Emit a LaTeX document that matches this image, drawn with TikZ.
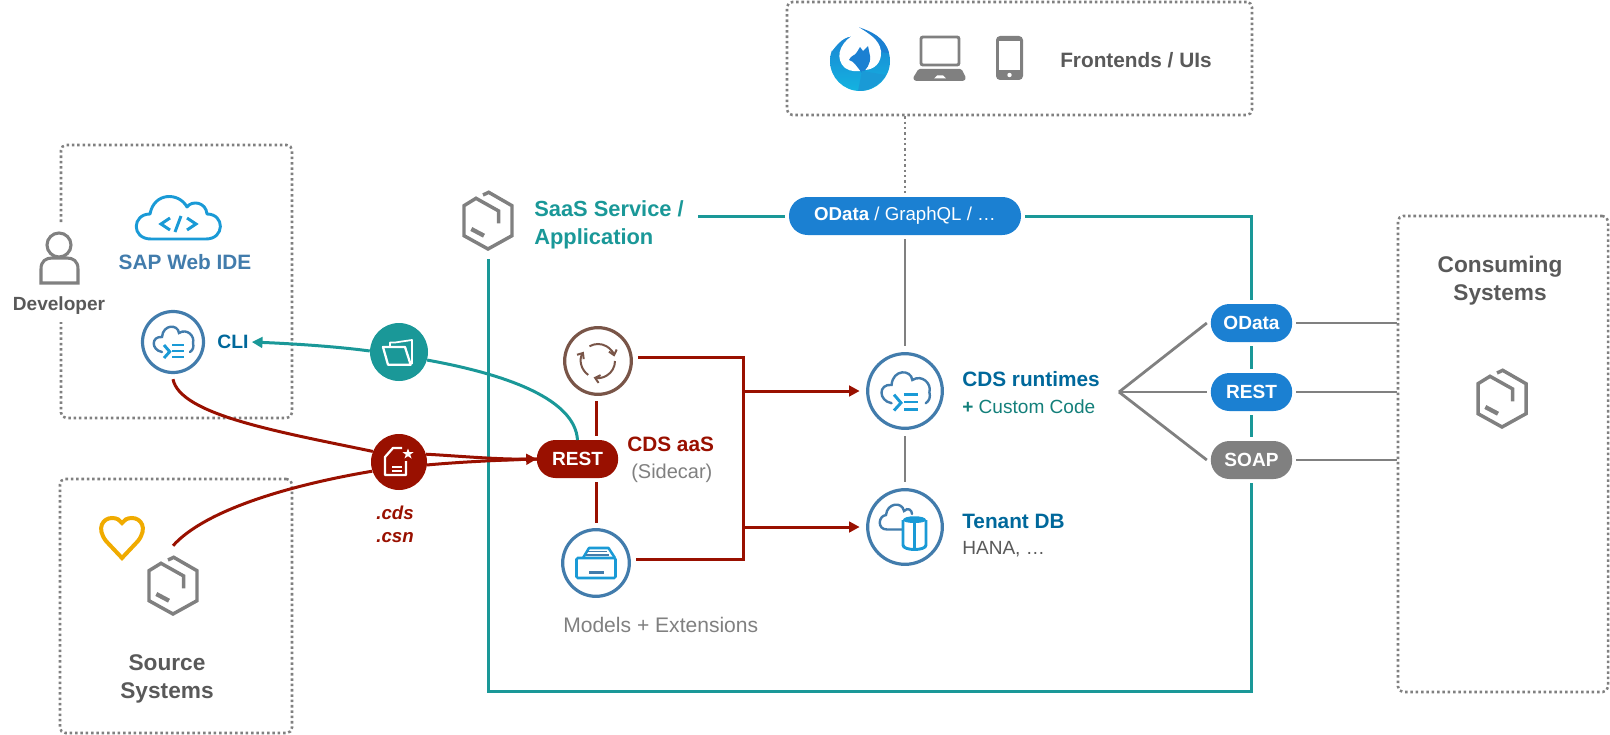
\documentclass[tikz,border=0pt]{standalone}
\usepackage{fontspec}
\setmainfont{Liberation Sans}
\usetikzlibrary{arrows.meta}

\definecolor{sapteal}{HTML}{1A9898}
\definecolor{sapred}{HTML}{991000}
\definecolor{sapblue}{HTML}{1B80D2}
\definecolor{ringblue}{HTML}{427CAC}
\definecolor{iconblue}{HTML}{1A9AD6}
\definecolor{deepblue}{HTML}{00689B}
\definecolor{midgrey}{HTML}{808080}
\definecolor{darkgrey}{HTML}{595959}
\definecolor{ringbrown}{HTML}{795548}
\definecolor{heartgold}{HTML}{F0AB00}
\definecolor{customteal}{HTML}{137F7A}

\tikzset{
	dotline/.style={midgrey,line width=1.9pt,dash pattern=on 1.9pt off 2.1pt},
	dotbox/.style={dotline,rectangle,rounded corners=4pt},
	greyline/.style={midgrey,line width=2.1pt},
	tealline/.style={sapteal,line width=2.25pt},
	redline/.style={sapred,line width=2.25pt},
	ring/.style={circle,draw=ringblue,fill=white,line width=2.4pt,inner sep=0pt,minimum size=50pt,outer sep=5pt},
	disc/.style={circle,inner sep=0pt,minimum size=42pt},
	spot/.style={circle,inner sep=0pt,minimum size=58.5pt},
	pill/.style={rectangle,rounded corners=14pt,inner sep=0pt,minimum width=61pt,minimum height=28.5pt,outer sep=3pt,text=white,font=\fontsize{14.3}{17}\selectfont\bfseries},
	bold/.style={inner sep=0pt,font=\fontsize{15.6}{21}\selectfont\bfseries},
	large/.style={inner sep=0pt,font=\fontsize{17}{21}\selectfont\bfseries},
	plain/.style={inner sep=0pt,font=\fontsize{14.3}{18}\selectfont},
	hexbox/.pic={
		\draw[midgrey,line width=2.6pt,line join=miter]
			(-5,-25) -- (0.7,-27.7) -- (24,-14.3) -- (24,15.7) -- (0,29) -- (-24,15.7) -- (-24,-14.3)
			-- (-12,-21.7) -- (10.7,-9) -- (10.7,3.3);
		\draw[midgrey,line width=3.2pt] (-16.7,9) -- (-4,15.7);
	},
	cloudcli/.pic={
		\draw[ringblue,line width=1.8pt,line cap=round]
			(-11,10) .. controls (-22,8) and (-22,-6) .. (-11,-5)
			.. controls (-10,-18) and (5,-18) .. (6,-9)
			.. controls (14,-14) and (22,-6) .. (20,1)
			.. controls (21,5) and (20,8) .. (17,10);
		\draw[iconblue,line width=2.2pt] (-9,3) -- (-3.3,9.7) -- (-9,16);
		\foreach \b in {3,9,15}
			\draw[iconblue,line width=2.2pt] (-1,\b) -- (11,\b);
	},
	clouddb/.pic={
		\draw[ringblue,line width=1.8pt,line cap=round]
			(-3,2.5) -- (-18,2.5) .. controls (-28,2.5) and (-27,-11) .. (-19,-12)
			.. controls (-18,-24) and (-3,-26) .. (-1,-16)
			.. controls (3,-20) and (7,-17) .. (7,-13);
		\draw[iconblue,line width=2.2pt,fill=white] (-2,-7) -- (-2,18) .. controls (-2,24) and (21,24) .. (21,18) -- (21,-7);
		\fill[iconblue] (-2,-7) .. controls (-2,-12) and (21,-12) .. (21,-7) .. controls (21,-3) and (-2,-3) .. cycle;
		\draw[iconblue,line width=2.2pt] (9.5,-4) -- (9.5,21);
	},
	refreshicon/.pic={
		\foreach \a/\e in {240/345,0/105,125/213}
			\draw[ringbrown,line width=1.5pt,-{Straight Barb[length=3.5pt,width=6pt]}] (\a:17) arc (\a:\e:17);
	},
	archiveicon/.pic={
		\draw[iconblue,line width=1.9pt,line join=round] (-13,-5) -- (-7,-15) -- (12.5,-15) -- (19,-5);
		\draw[iconblue,line width=1.9pt,rounded corners=1pt] (-19.5,-5) rectangle (19.5,15);
		\draw[ringblue,line width=1pt] (-9,-11.5) -- (11,-11.5);
		\draw[ringblue,line width=1pt] (-10.5,-8) -- (13,-8);
		\fill[ringblue] (-7.5,8) rectangle (7.5,11);
	},
	fileicon/.pic={
		\draw[white,line width=1.7pt,line join=round] (3,-14) -- (-6,-14) -- (-14,-5) -- (-14,13) -- (7,13) -- (7,-1);
		\draw[white,line width=1pt] (-7,5) -- (3,5);
		\draw[white,line width=1pt] (-7,9) -- (3,9);
		\fill[white] (9,-13.5) -- (10.4,-9.8) -- (14.5,-9.8) -- (11.2,-7.4) -- (12.5,-3.5) -- (9,-5.9)
			-- (5.5,-3.5) -- (6.8,-7.4) -- (3.5,-9.8) -- (7.6,-9.8) -- cycle;
	},
	foldericon/.pic={
		\draw[white,line width=1.3pt,line join=round] (-9,-6) -- (-9,-9.5) -- (-4,-9.5) -- (13,-12) -- (13,12);
		\draw[white,line width=1.7pt,line join=round] (-16,-5) -- (6,-5) -- (11.7,12.7) -- (-11,12.7) -- cycle;
	},
	phoenix/.pic={
		\shade[top color=sapblue,bottom color=iconblue!75!cyan] (0,0) circle (30);
		\fill[sapblue] (-1,-33.7) .. controls (10,-30) and (25,-24) .. (29,-8) -- (10,-10) -- cycle;
		\fill[white] (-9,-24.5) .. controls (-18,-23.5) and (-24,-15) .. (-28,-10) -- (-33,-33) -- (-9,-35) -- cycle;
		\fill[white] (-9,-24.5) .. controls (-21,-16) and (-25,-2) .. (-15,7)
			.. controls (-9,11) and (-2,11) .. (4,9)
			.. controls (14,9) and (22,2) .. (21,-10)
			.. controls (19,-22) and (9,-27) .. (-1,-33.7) -- (-9,-34) -- cycle;
		\fill[sapblue] (-11,-1) .. controls (-9,-6) and (-5,-5) .. (-3,-9) -- (0,-14) -- (3,-10) -- (8,-15) -- (10,-5)
			.. controls (11,3) and (6,9) .. (2,12) .. controls (-3,6) and (-6,0) .. cycle;
		\fill[iconblue] (2,10) -- (26,14) .. controls (18,26) and (8,30) .. (-2,30) -- cycle;
	},
	laptopicon/.pic={
		\draw[midgrey,line width=2.2pt,rounded corners=1.5pt] (-19,-22) rectangle (19,6);
		\fill[midgrey,rounded corners=1pt] (-21.5,10) -- (21.5,10) -- (26,19) -- (24,22) -- (-25,22) -- (-27,19) -- cycle;
		\fill[white] (-6,19.5) -- (-3,16.5) -- (3,16.5) -- (6,19.5) -- cycle;
	},
	phoneicon/.pic={
		\fill[midgrey,rounded corners=3pt] (-13.5,-22) rectangle (13.5,22);
		\fill[white] (-10.5,-17) rectangle (10.5,12);
		\fill[white] (0,17) circle (2.2);
	},
}

\begin{document}
\begin{tikzpicture}[x=0.75pt,y=-0.75pt]

	\useasboundingbox (0,0) rectangle (1610,735);

	% dotted system boxes
	\node[dotbox,draw,minimum width=348.75pt,minimum height=84.75pt] (frontends) at (1019.5,58.5) {};
	\node[dotbox,draw,minimum width=174pt,minimum height=190.5pt] (source) at (176,606) {};
	\node[dotbox,draw,minimum width=157.5pt,minimum height=357pt] (consuming) at (1503,454) {};
	\draw[dotline,rounded corners=4pt] (61,222) -- (61,145) -- (292,145) -- (292,418) -- (61,418) -- (61,322);

	% frontends
	\pic at (860,61) {phoenix};
	\pic at (940,59) {laptopicon};
	\pic at (1009.5,58) {phoneicon};
	\node[bold,text=darkgrey,anchor=west] (uilabel) at (1060,60) {Frontends / UIs};

	% developer side
	\draw[midgrey,line width=2.3pt] (59,245) circle (12);
	\draw[midgrey,line width=2.3pt] (41,283) -- (41,269) .. controls (41,261) and (46,258) .. (52,258) -- (67,258) .. controls (73,258) and (78,261) .. (78,269) -- (78,283) -- cycle;
	\node[inner sep=0pt,text=darkgrey,font=\fontsize{14.3}{17}\selectfont\bfseries] (developer) at (59,306) {Developer};
	\draw[iconblue,line width=2.2pt,line join=round]
		(151,239) -- (206,239) .. controls (225,239) and (225,214) .. (207,214)
		.. controls (206,202) and (192,200) .. (187,207)
		.. controls (179,192) and (154,192) .. (150,214)
		.. controls (132,214) and (131,239) .. (151,239);
	\draw[iconblue,line width=2.2pt] (170,218) -- (161,224) -- (170,230);
	\draw[iconblue,line width=2.2pt] (181,216) -- (175,232);
	\draw[iconblue,line width=2.2pt] (187,218) -- (196,224) -- (187,230);
	\node[bold,text=ringblue] (webide) at (185,262) {SAP Web IDE};
	\node[ring,minimum size=45.75pt] (cli) at (173,342) {};
	\pic at (173,342) {cloudcli};
	\node[bold,text=deepblue,font=\fontsize{14.5}{17}\selectfont\bfseries,inner xsep=2.2pt] (clilabel) at (233,342) {CLI};

	% source side
	\draw[heartgold,line width=3pt,line join=miter]
		(122,558) -- (106,541) .. controls (96,528) and (103,518) .. (112,518) .. controls (117,518) and (120,520) .. (122,523)
		.. controls (124,520) and (127,518) .. (132,518) .. controls (141,518) and (148,528) .. (138,541) -- cycle;
	\node[spot] (srchex) at (173,585) {};
	\pic at (173,585) {hexbox};
	\node[large,text=darkgrey,align=center] (srclabel) at (167,679) {Source\\ Systems};

	% files on the way
	\node[disc,fill=sapred] (cdsfile) at (399,462) {};
	\pic at (399,462) {fileicon};
	\node[inner sep=0pt,text=sapred,align=center,font=\fontsize{14}{17.5}\selectfont\bfseries\itshape] (cdstext) at (395,524) {.cds\\.csn};
	\node[disc,fill=sapteal,minimum size=43.5pt] (folder) at (399,352) {};
	\pic at (399,352) {foldericon};

	% sidecar
	\node[ring,draw=ringbrown] (refresh) at (598,361) {};
	\pic at (598,361) {refreshicon};
	\node[ring] (archive) at (596,563) {};
	\pic at (596,563) {archiveicon};
	\node[pill,fill=sapred,outer sep=0pt] (sidecar) at (577.5,459) {REST};
	\node[bold,text=sapred,anchor=west] (aaslabel) at (627,444) {CDS aaS};
	\node[plain,text=midgrey,anchor=west,font=\fontsize{15}{18}\selectfont] (sidelabel) at (631,473) {(Sidecar)};
	\node[plain,text=midgrey,anchor=west,font=\fontsize{15.8}{19}\selectfont] (modellabel) at (563,625) {Models + Extensions};

	% runtimes
	\node[ring,minimum size=56pt,outer sep=6pt] (runtime) at (905,391) {};
	\pic[scale=1.22] at (905,391) {cloudcli};
	\node[ring,minimum size=56pt,outer sep=6pt] (tenant) at (905,527) {};
	\pic at (905,527) {clouddb};
	\node[bold,text=deepblue,anchor=west] (runlabel) at (962,379) {CDS runtimes};
	\node[plain,text=customteal,anchor=west] (codelabel) at (962,407) {\textbf{+} Custom Code};
	\node[bold,text=deepblue,anchor=west] (tenantlabel) at (962,521) {Tenant DB};
	\node[plain,text=darkgrey,anchor=west] (hanalabel) at (962,549) {HANA, \dots};

	% service frame and protocols
	\node[spot] (saashex) at (488,220) {};
	\pic at (488,220) {hexbox};
	\node[bold,text=sapteal,anchor=west,align=left,font=\fontsize{16.4}{21}\selectfont\bfseries] (saaslabel) at (534,224.5) {SaaS Service /\\Application};
	\node[pill,fill=sapblue,minimum width=174pt,font=\fontsize{14}{17}\selectfont] (apitop) at (905,216) {\textbf{OData} / GraphQL / \dots};
	\node[pill,fill=sapblue] (odata) at (1251.5,323) {OData};
	\node[pill,fill=sapblue] (rest) at (1251.5,392) {REST};
	\node[pill,fill=midgrey] (soap) at (1251.5,460) {SOAP};
	\node[large,text=darkgrey,align=center] (conslabel) at (1500,281) {Consuming\\ Systems};
	\pic at (1502,398) {hexbox};

	\coordinate (saasend) at (698,216);
	\coordinate (frameNE) at (1251.5,216);
	\coordinate (frameSE) at (1251.5,691);
	\coordinate (frameSW) at (488,691);
	\coordinate (fan) at (1119,392);
	\coordinate (bend) at (743,357);
	\coordinate (bendlow) at (743,559);

	\draw[tealline] (saasend) -- (apitop.west);
	\draw[tealline] (apitop.east) -- (frameNE) -- (odata.north);
	\draw[tealline] (odata.south) -- (rest.north);
	\draw[tealline] (rest.south) -- (soap.north);
	\draw[tealline] (soap.south) -- (frameSE) -- (frameSW) -- (saashex.south);

	\draw[dotline] (frontends.south -| apitop.north) -- (apitop.north);
	\draw[greyline] (apitop.south) -- (runtime.north);
	\draw[greyline] (runtime.south) -- (tenant.north);
	\draw[greyline] (fan) -- (odata.west);
	\draw[greyline] (fan) -- (rest.west);
	\draw[greyline] (fan) -- (soap.west);
	\draw[greyline] (odata.east) -- (odata.east -| consuming.west);
	\draw[greyline] (rest.east) -- (rest.east -| consuming.west);
	\draw[greyline] (soap.east) -- (soap.east -| consuming.west);

	\draw[redline,shorten >=3pt] (archive.north |- refresh.south) -- (archive.north |- sidecar.north);
	\draw[redline,shorten <=3pt] (archive.north |- sidecar.south) -- (archive.north);
	\draw[redline] (refresh.east |- bend) -- (bend) -- (bendlow) -- (archive.east |- bendlow);
	\draw[redline,-{Triangle[length=8pt,width=8pt]}] (bend |- runtime.west) -- (runtime.west);
	\draw[redline,-{Triangle[length=8pt,width=8pt]}] (bend |- tenant.west) -- (tenant.west);

	\draw[redline] (cli.south) .. controls (180,415) and (280,432) .. (cdsfile.158);
	\draw[redline] (srchex.north) .. controls (205,510) and (290,485) .. (cdsfile.199);
	\draw[redline] (cdsfile.16) .. controls (460,456) and (500,460) .. (sidecar.west);
	\draw[redline] (cdsfile.-6) .. controls (460,462) and (500,460) .. (sidecar.west);
	\draw[redline,-{Triangle[length=8pt,width=8pt]}] (500,460) -- (sidecar.west);

	\draw[tealline] (sidecar.north) .. controls (575,400) and (510,375) .. (folder.-16);
	\draw[tealline,-{Triangle[length=8pt,width=8pt]}] (folder.178) .. controls (340,347) and (300,344) .. (clilabel.east);

\end{tikzpicture}
\end{document}
